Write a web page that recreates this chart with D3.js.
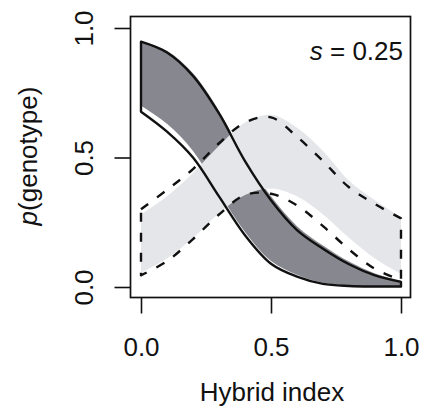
<!DOCTYPE html>
<html>
<head>
<meta charset="utf-8">
<script src="https://cdn.jsdelivr.net/npm/d3@7"></script>
<style>
  html, body { margin: 0; padding: 0; background: #ffffff; }
  svg { display: block; }
  text { font-family: "Liberation Sans", Arial, Helvetica, sans-serif; fill: #111; }
</style>
</head>
<body>
<svg id="chart" width="421" height="408"></svg>
<script>
// ---- data ----
const hybridIndex = [0.0, 0.1, 0.2, 0.3, 0.4, 0.5, 0.6, 0.7, 0.8, 0.9, 1.0];
// homozygote band (dark grey fill) and its solid outline
const homUpperFill = [0.950, 0.912, 0.825, 0.680, 0.500, 0.350, 0.235, 0.160, 0.098, 0.052, 0.024];
const homLowerFill = [0.700, 0.630, 0.525, 0.365, 0.212, 0.100, 0.047, 0.016, 0.006, 0.004, 0.003];
const homUpperLine = [0.947, 0.905, 0.815, 0.670, 0.486, 0.335, 0.220, 0.148, 0.088, 0.045, 0.020];
const homLowerLine = [0.677, 0.600, 0.500, 0.350, 0.200, 0.090, 0.040, 0.012, 0.004, 0.002, 0.002];
// heterozygote band (light grey fill) and its dashed outline
const hetUpperFill = [0.280, 0.350, 0.440, 0.545, 0.635, 0.665, 0.615, 0.525, 0.410, 0.335, 0.270];
const hetLowerFill = [0.055, 0.110, 0.190, 0.285, 0.355, 0.380, 0.350, 0.280, 0.190, 0.110, 0.050];
const hetUpperLine = [0.300, 0.375, 0.455, 0.555, 0.635, 0.655, 0.580, 0.486, 0.385, 0.320, 0.265];
const hetLowerLine = [0.045, 0.100, 0.185, 0.280, 0.355, 0.360, 0.315, 0.235, 0.145, 0.070, 0.027];
const xTicks = [0.0, 0.5, 1.0];
const yTicks = [0.0, 0.5, 1.0];
const xTitle = "Hybrid index";
const panelLabel = "0.25";

// ---- layout ----
const svg = d3.select("#chart");
const x = d3.scaleLinear().domain([0, 1]).range([141, 401]);
const y = d3.scaleLinear().domain([0, 1]).range([287, 28]);
const box = { x0: 130.5, x1: 410.5, y0: 16.5, y1: 297.5 };
const curve = d3.curveCatmullRom.alpha(0.5);

function pts(arr) { return hybridIndex.map((h, i) => [x(h), y(arr[i])]); }
function band(upper, lower) {
  return d3.area().curve(curve)
    .x((d, i) => x(hybridIndex[i])).y1((d, i) => y(upper[i])).y0((d, i) => y(lower[i]))(hybridIndex);
}
const lineGen = d3.line().curve(curve);
function outline(upper, lower) {
  const a = lineGen(pts(upper));
  const b = lineGen(pts(lower).reverse());
  return a + "L" + b.substring(1) + "Z";
}

// fills
svg.append("path").attr("d", band(homUpperFill, homLowerFill)).attr("fill", "#87878f");
svg.append("path").attr("d", band(hetUpperFill, hetLowerFill)).attr("fill", "#e5e6ea");

// outlines
svg.append("path").attr("d", outline(hetUpperLine, hetLowerLine))
  .attr("fill", "none").attr("stroke", "#111").attr("stroke-width", 2.4)
  .attr("stroke-dasharray", "9,11").attr("stroke-linejoin", "round");
svg.append("path").attr("d", outline(homUpperLine, homLowerLine))
  .attr("fill", "none").attr("stroke", "#111").attr("stroke-width", 2.4)
  .attr("stroke-linejoin", "round");

// box
svg.append("rect").attr("x", box.x0).attr("y", box.y0)
  .attr("width", box.x1 - box.x0).attr("height", box.y1 - box.y0)
  .attr("fill", "none").attr("stroke", "#111").attr("stroke-width", 1.7);

// axes
const fmt = d3.format(".1f");
const xAxis = d3.axisBottom(x).tickValues(xTicks).tickSize(16).tickFormat(fmt);
const gx = svg.append("g").attr("transform", `translate(0,${box.y1})`).call(xAxis);
gx.select(".domain").remove();
gx.selectAll(".tick line").attr("stroke", "#111").attr("stroke-width", 1.6);
gx.selectAll(".tick text").attr("font-size", 26).attr("fill", "#111")
  .attr("font-family", "'Liberation Sans', Arial, sans-serif").attr("dy", 0).attr("y", 58);

const yAxis = d3.axisLeft(y).tickValues(yTicks).tickSize(16).tickFormat(fmt);
const gy = svg.append("g").attr("transform", `translate(${box.x0},0)`).call(yAxis);
gy.select(".domain").remove();
gy.selectAll(".tick line").attr("stroke", "#111").attr("stroke-width", 1.6);
gy.selectAll(".tick text").attr("font-size", 26).attr("fill", "#111")
  .attr("font-family", "'Liberation Sans', Arial, sans-serif")
  .attr("x", null).attr("dy", null)
  .attr("text-anchor", "middle")
  .attr("transform", "translate(-38,0) rotate(-90)");

// titles
svg.append("text").attr("x", 272).attr("y", 401).attr("text-anchor", "middle")
  .attr("font-size", 26).text(xTitle);

const yl = svg.append("text").attr("transform", "translate(37,156) rotate(-90)")
  .attr("text-anchor", "middle").attr("font-size", 26);
yl.append("tspan").attr("font-style", "italic").text("p");
yl.append("tspan").text("(genotype)");

const sl = svg.append("text").attr("x", 403).attr("y", 60).attr("text-anchor", "end").attr("font-size", 26);
sl.append("tspan").attr("font-style", "italic").text("s");
sl.append("tspan").text(" = " + panelLabel);
</script>
</body>
</html>
